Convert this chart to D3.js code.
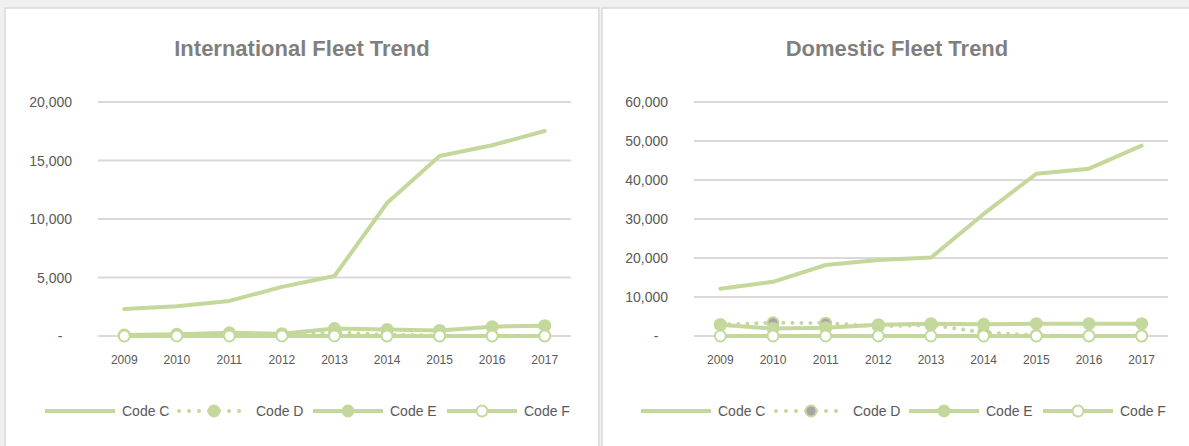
<!DOCTYPE html>
<html>
<head>
<meta charset="utf-8">
<script src="https://cdn.jsdelivr.net/npm/d3@7"></script>
<style>
  body { margin: 0; background: #f0f0f0; }
  svg { display: block; font-family: "Liberation Sans", Arial, sans-serif; }
  .tick-label { fill: #595959; font-size: 14px; }
  .legend-label { fill: #595959; font-size: 14px; }
  .x-label { fill: #595959; font-size: 12px; }
  .title { fill: #7f7f7f; font-size: 22px; font-weight: bold; }
</style>
</head>
<body>
<svg id="chart" width="1189" height="446"></svg>
<script>
const years = ['2009', '2010', '2011', '2012', '2013', '2014', '2015', '2016', '2017'];
const seriesNames = ['Code C', 'Code D', 'Code E', 'Code F'];

const intlC = [2300, 2550, 3000, 4200, 5130, 11370, 15380, 16300, 17520];
const intlD = [30, 60, 100, 80, 300, 120, 30, 20, 20];
const intlE = [80, 150, 280, 200, 640, 560, 480, 800, 880];
const intlF = [0, 0, 0, 0, 0, 0, 0, 0, 0];
const intlTicks = [0, 5000, 10000, 15000, 20000];

const domC = [12100, 13900, 18200, 19500, 20100, 31300, 41600, 42900, 48800];
const domD = [2900, 3400, 3300, 2500, 2800, 900, 150, 50, 50];
const domE = [2900, 1900, 2100, 2900, 3150, 3000, 3150, 3150, 3150];
const domF = [0, 0, 0, 0, 0, 0, 0, 0, 0];
const domTicks = [0, 10000, 20000, 30000, 40000, 50000, 60000];

const green = '#c4d89b';
const width = 1189;
const height = 446;

const svg = d3.select('#chart');

svg.append('rect')
  .attr('width', width)
  .attr('height', height)
  .attr('fill', '#f0f0f0');

function drawPanel(opts) {
  const g = svg.append('g');

  g.append('rect')
    .attr('x', opts.px)
    .attr('y', 8)
    .attr('width', opts.pw)
    .attr('height', height)
    .attr('fill', '#fff')
    .attr('stroke', '#d9d9d9')
    .attr('stroke-width', 1.5);

  g.append('text')
    .attr('class', 'title')
    .attr('x', opts.px + opts.pw / 2)
    .attr('y', 56)
    .attr('text-anchor', 'middle')
    .text(opts.title);

  const xscale = d3.scalePoint()
    .domain(years)
    .range([opts.x0, opts.x1])
    .padding(0.5);

  const yscale = d3.scaleLinear()
    .domain([0, d3.max(opts.ticks)])
    .range([336, 102]);

  // gridlines
  g.append('g')
    .selectAll('line')
    .data(opts.ticks)
    .enter()
    .append('line')
    .attr('x1', opts.x0)
    .attr('x2', opts.x1)
    .attr('y1', (d) => yscale(d))
    .attr('y2', (d) => yscale(d))
    .attr('stroke', '#d9d9d9')
    .attr('stroke-width', 2);

  // y labels
  g.append('g')
    .selectAll('text')
    .data(opts.ticks)
    .enter()
    .append('text')
    .attr('class', 'tick-label')
    .attr('x', (d) => d === 0 ? opts.x0 - 38 : opts.x0 - 26)
    .attr('y', (d) => yscale(d) + 5)
    .attr('text-anchor', (d) => d === 0 ? 'middle' : 'end')
    .text((d) => d === 0 ? '-' : d3.format(',')(d));

  // x labels
  g.append('g')
    .selectAll('text')
    .data(years)
    .enter()
    .append('text')
    .attr('class', 'x-label')
    .attr('x', (d) => xscale(d))
    .attr('y', 364)
    .attr('text-anchor', 'middle')
    .text((d) => d);

  const line = d3.line()
    .x((d, i) => xscale(years[i]))
    .y((d) => yscale(d));

  const series = [
    { values: opts.c, dash: null, marker: null },
    { values: opts.d, dash: '0.01 9', marker: opts.dFill },
    { values: opts.e, dash: null, marker: green },
    { values: opts.f, dash: null, marker: '#fff' },
  ];

  series.forEach((s) => {
    g.append('path')
      .datum(s.values)
      .attr('d', line)
      .attr('fill', 'none')
      .attr('stroke', green)
      .attr('stroke-width', 4)
      .attr('stroke-linecap', 'round')
      .attr('stroke-linejoin', 'round')
      .attr('stroke-dasharray', s.dash);

    if (s.marker) {
      g.append('g')
        .selectAll('circle')
        .data(s.values)
        .enter()
        .append('circle')
        .attr('cx', (d, i) => xscale(years[i]))
        .attr('cy', (d) => yscale(d))
        .attr('r', 5.5)
        .attr('fill', s.marker)
        .attr('stroke', green)
        .attr('stroke-width', 2);
    }
  });

  // legend
  const legend = g.append('g');
  const ly = 411;
  series.forEach((s, i) => {
    const lx = opts.legendX[i];
    legend.append('line')
      .attr('x1', lx)
      .attr('x2', lx + 70)
      .attr('y1', ly)
      .attr('y2', ly)
      .attr('stroke', green)
      .attr('stroke-width', 4)
      .attr('stroke-linecap', s.dash ? 'round' : 'butt')
      .attr('stroke-dasharray', s.dash ? '0.01 10' : null);

    if (s.marker) {
      legend.append('circle')
        .attr('cx', lx + 35)
        .attr('cy', ly)
        .attr('r', 5.5)
        .attr('fill', s.marker)
        .attr('stroke', green)
        .attr('stroke-width', 2);
    }

    legend.append('text')
      .attr('class', 'legend-label')
      .attr('x', lx + 77)
      .attr('y', ly + 5)
      .text(seriesNames[i]);
  });
}

drawPanel({
  px: 5, pw: 594, title: 'International Fleet Trend',
  x0: 98, x1: 571, ticks: intlTicks,
  c: intlC, d: intlD, e: intlE, f: intlF, dFill: green,
  legendX: [45, 179, 313, 447],
});

drawPanel({
  px: 602, pw: 590, title: 'Domestic Fleet Trend',
  x0: 694, x1: 1168, ticks: domTicks,
  c: domC, d: domD, e: domE, f: domF, dFill: '#a5a5a5',
  legendX: [641, 776, 909, 1043],
});
</script>
</body>
</html>
